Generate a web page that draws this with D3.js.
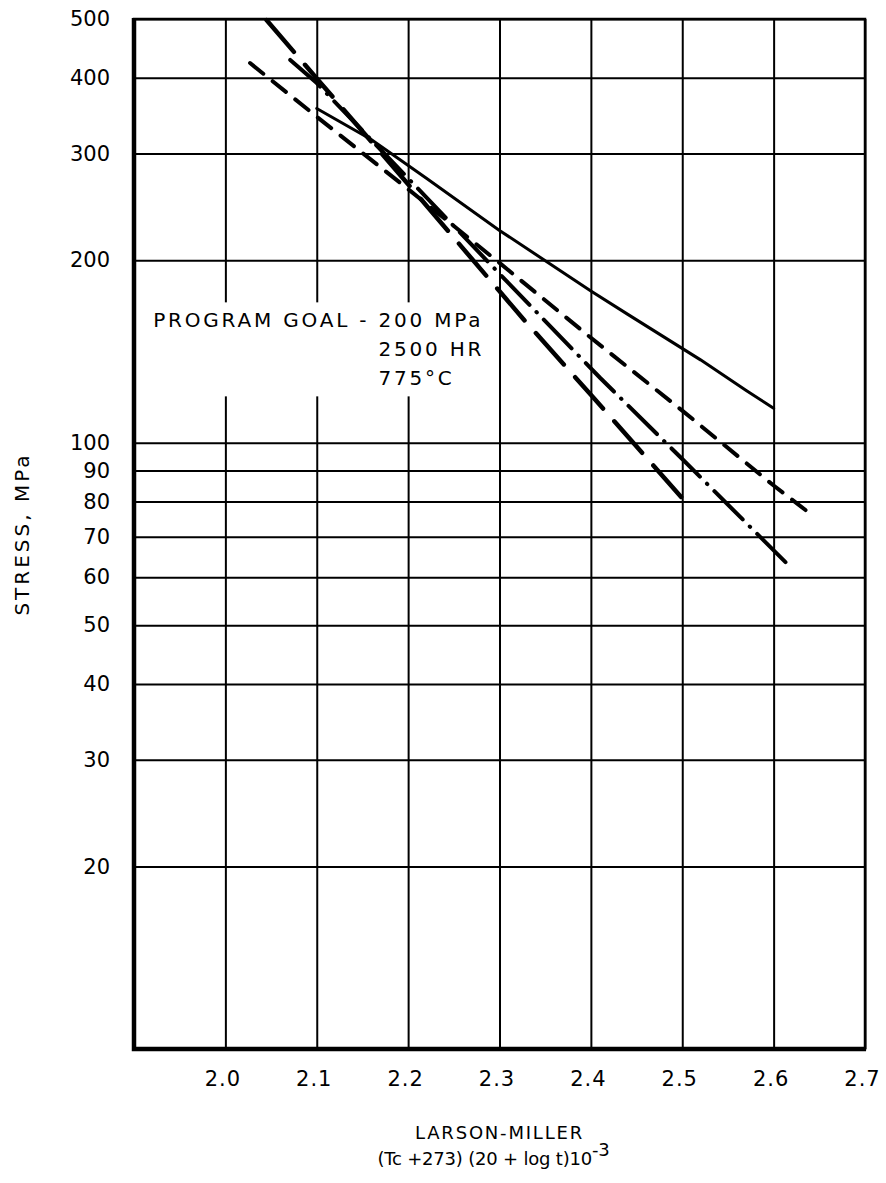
<!DOCTYPE html>
<html>
<head>
<meta charset="utf-8">
<script src="https://cdn.jsdelivr.net/npm/d3@7"></script>
<style>
  body { margin: 0; background: #fff; }
  svg text { font-family: "DejaVu Sans", Arial, sans-serif; fill: #000; }
</style>
</head>
<body>
<div id="chart"></div>
<script>
// tick values
const xTicks = [2.0, 2.1, 2.2, 2.3, 2.4, 2.5, 2.6, 2.7];
const yTicks = [20, 30, 40, 50, 60, 70, 80, 90, 100, 200, 300, 400, 500];

// [Larson-Miller parameter, stress MPa]
const solidCurve = [
  [2.10, 356], [2.16, 316], [2.22, 273], [2.30, 224], [2.40, 178],
  [2.44, 163], [2.52, 137], [2.57, 122], [2.60, 114],
];
const dashCurve = [
  [2.027, 423], [2.10, 345], [2.20, 262], [2.30, 198], [2.40, 149],
  [2.50, 113], [2.60, 85], [2.642, 76],
];
const dashDotCurve = [
  [2.071, 428], [2.10, 392], [2.20, 273], [2.30, 190], [2.41, 128],
  [2.50, 94], [2.62, 62],
];
const longDashCurve = [
  [2.045, 498], [2.10, 399], [2.20, 267], [2.326, 160], [2.40, 120],
  [2.50, 81],
];

const goalLines = ["PROGRAM GOAL - 200 MPa", "2500 HR", "775°C"];
const goalAnchor = [1.921, 155]; // where the note starts, in data units

function StressChart(
  id,
  {
    width = 886,
    height = 1183,
    marginTop = 19,
    marginRight = 21,
    marginBottom = 134,
    marginLeft = 134,
    fontSize = 21,
  } = {}
) {
  const plotW = width - marginLeft - marginRight;
  const plotH = height - marginTop - marginBottom;

  const xScale = d3.scaleLinear([1.9, 2.7], [marginLeft, width - marginRight]);
  const yScale = d3.scaleLog([10, 500], [height - marginBottom, marginTop]);

  const svg = d3
    .select(id)
    .append("svg")
    .attr("width", width)
    .attr("height", height)
    .attr("viewBox", [0, 0, width, height]);

  // horizontal grid + stress labels
  svg
    .append("g")
    .attr("transform", `translate(${marginLeft},0)`)
    .call(
      d3
        .axisLeft(yScale)
        .tickValues(yTicks)
        .tickFormat(d3.format("d"))
        .tickSize(-plotW)
        .tickPadding(24)
    )
    .attr("font-size", fontSize)
    .attr("font-family", null)
    .call((g) => g.select(".domain").remove())
    .call((g) => g.selectAll(".tick line").attr("stroke", "#000").attr("stroke-width", 2));

  // vertical grid + parameter labels
  svg
    .append("g")
    .attr("transform", `translate(0,${height - marginBottom})`)
    .call(
      d3
        .axisBottom(xScale)
        .tickValues(xTicks)
        .tickFormat(d3.format(".1f"))
        .tickSize(-plotH)
        .tickPadding(22)
    )
    .attr("font-size", fontSize)
    .attr("font-family", null)
    .call((g) => g.select(".domain").remove())
    .call((g) => g.selectAll(".tick line").attr("stroke", "#000").attr("stroke-width", 2))
    .call((g) => g.selectAll(".tick text").attr("dx", -3).attr("letter-spacing", 1));

  // program goal note, on a white patch that hides the grid behind it
  const note = svg.append("g");
  const noteBg = note.append("rect").attr("fill", "#fff");
  const nx = xScale(goalAnchor[0]);
  const ny = yScale(goalAnchor[1]);
  const first = note
    .append("text")
    .attr("x", nx)
    .attr("y", ny)
    .attr("font-size", 20)
    .attr("letter-spacing", 2.8)
    .text(goalLines[0]);
  // later lines line up under the "200"
  const indent = first.node().getSubStringLength(0, goalLines[0].indexOf("200"));
  goalLines.slice(1).forEach((s, i) => {
    note
      .append("text")
      .attr("x", nx + indent)
      .attr("y", ny + (i + 1) * 29)
      .attr("font-size", 20)
      .attr("letter-spacing", 2.8)
      .text(s);
  });
  const bb = note.node().getBBox();
  noteBg
    .attr("x", bb.x - 10)
    .attr("y", bb.y - 6)
    .attr("width", bb.width + 12)
    .attr("height", bb.height + 12);

  // curves
  const line = d3
    .line()
    .x((d) => xScale(d[0]))
    .y((d) => yScale(d[1]));

  const curves = [
    { data: solidCurve, dash: null, w: 3 },
    { data: dashCurve, dash: "17,12", w: 4 },
    { data: dashDotCurve, dash: "40,10,0.5,10", w: 4 },
    { data: longDashCurve, dash: "42,17", w: 4.5 },
  ];

  svg
    .append("g")
    .attr("fill", "none")
    .attr("stroke", "#000")
    .attr("stroke-linecap", "round")
    .selectAll("path")
    .data(curves)
    .join("path")
    .attr("stroke-width", (d) => d.w)
    .attr("stroke-dasharray", (d) => d.dash)
    .attr("d", (d) => line(d.data));

  // frame: heavy left and bottom edges
  svg
    .append("rect")
    .attr("x", marginLeft)
    .attr("y", marginTop)
    .attr("width", plotW)
    .attr("height", plotH)
    .attr("fill", "none")
    .attr("stroke", "#000")
    .attr("stroke-width", 2.5);
  svg
    .append("path")
    .attr("d", `M${marginLeft},${marginTop - 1}V${height - marginBottom}H${width - marginRight + 1}`)
    .attr("fill", "none")
    .attr("stroke", "#000")
    .attr("stroke-width", 4.5);

  // axis titles
  svg
    .append("text")
    .attr("transform", `translate(22,${marginTop + plotH / 2}) rotate(-90)`)
    .attr("text-anchor", "middle")
    .attr("dominant-baseline", "central")
    .attr("font-size", 20)
    .attr("letter-spacing", 3)
    .text("STRESS, MPa");

  const cx = marginLeft + plotW / 2;
  svg
    .append("text")
    .attr("x", cx)
    .attr("y", height - marginBottom + 90)
    .attr("text-anchor", "middle")
    .attr("font-size", 18)
    .attr("letter-spacing", 1.8)
    .text("LARSON-MILLER");
  const t2 = svg
    .append("text")
    .attr("x", cx - 6)
    .attr("y", height - marginBottom + 116)
    .attr("text-anchor", "middle")
    .attr("font-size", 18)
    .attr("letter-spacing", -0.2);
  t2.append("tspan").text("(Tc +273) (20 + log t)10");
  t2.append("tspan").attr("dy", -9).attr("font-size", 18).text("-3");

  return svg.node();
}

StressChart("#chart");
</script>
</body>
</html>
